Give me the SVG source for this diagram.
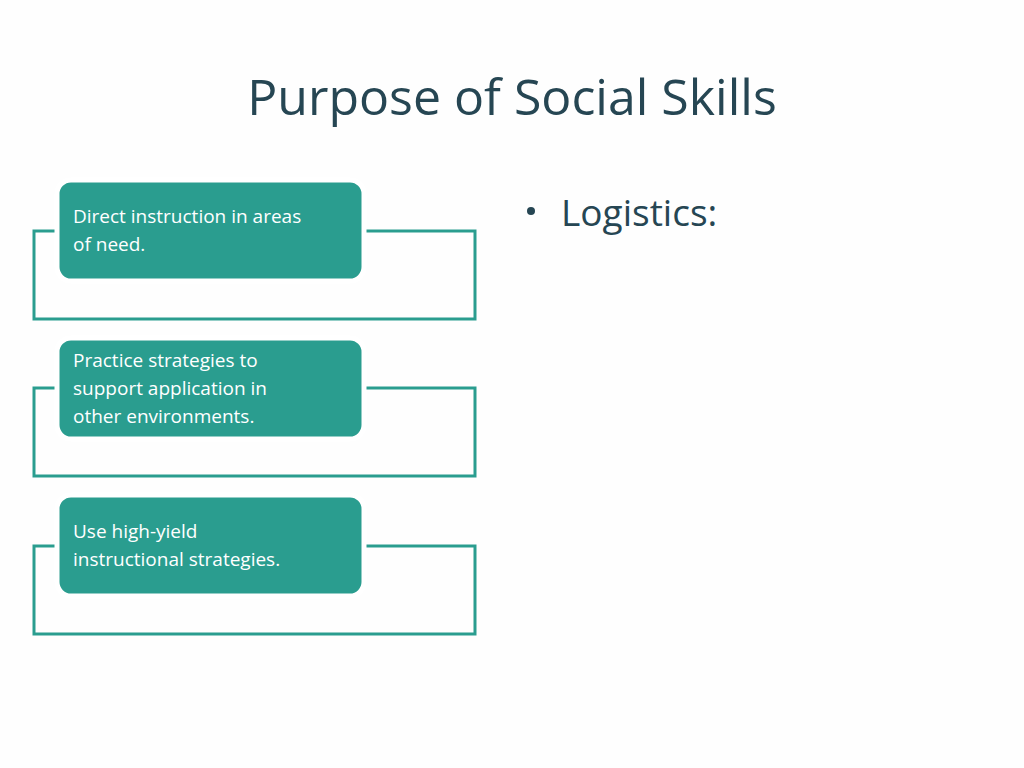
<svg xmlns="http://www.w3.org/2000/svg" width="1024" height="768" viewBox="0 0 1024 768">
<style>
.frame{fill:none;stroke:#2a9d8f;stroke-width:3}
.box{fill:#2a9d8f;stroke:#ffffff;stroke-width:5}
.t{font-family:"Open Sans","Liberation Sans",sans-serif;font-size:19px;fill:#ffffff}
</style>
<rect width="1024" height="768" fill="#fefefe"/>
<text x="512" y="115" text-anchor="middle" font-family="'Open Sans','Liberation Sans',sans-serif" font-size="50" fill="#264653">Purpose of Social Skills</text>
<g id="bullet">
<circle cx="531" cy="211" r="4" fill="#264653"/>
<text x="561" y="226" font-family="'Open Sans','Liberation Sans',sans-serif" font-size="37" fill="#264653">Logistics:</text>
</g>
<g id="frames">
<rect class="frame" x="34" y="231" width="441" height="88"/>
<rect class="frame" x="34" y="388" width="441" height="88"/>
<rect class="frame" x="34" y="546" width="441" height="88"/>
</g>
<g id="n1"><rect class="box" x="57" y="180" width="307" height="101" rx="14"/>
<text class="t" x="73" y="223">Direct instruction in areas</text><text class="t" x="73" y="251">of need.</text></g>
<g id="n2"><rect class="box" x="57" y="338" width="307" height="101" rx="14"/>
<text class="t" x="73" y="367">Practice strategies to</text><text class="t" x="73" y="395">support application in</text><text class="t" x="73" y="423">other environments.</text></g>
<g id="n3"><rect class="box" x="57" y="495" width="307" height="101" rx="14"/>
<text class="t" x="73" y="538">Use high-yield</text><text class="t" x="73" y="566">instructional strategies.</text></g>
</svg>
